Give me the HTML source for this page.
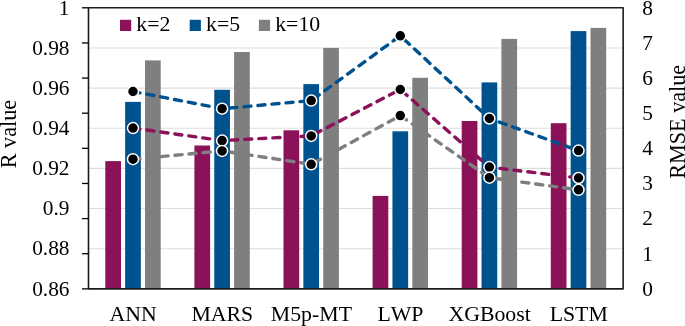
<!DOCTYPE html>
<html><head><meta charset="utf-8"><title>chart</title>
<style>html,body{margin:0;padding:0;background:#fff;overflow:hidden}text{font-kerning:none;font-variant-ligatures:none}</style></head>
<body>
<svg width="685" height="326" viewBox="0 0 685 326" style="display:block">
<rect width="685" height="326" fill="#fff"/>
<line x1="88.5" x2="623.15" y1="248.70" y2="248.70" stroke="#DEDEDE" stroke-width="1.1"/>
<line x1="88.5" x2="623.15" y1="208.55" y2="208.55" stroke="#DEDEDE" stroke-width="1.1"/>
<line x1="88.5" x2="623.15" y1="168.40" y2="168.40" stroke="#DEDEDE" stroke-width="1.1"/>
<line x1="88.5" x2="623.15" y1="128.25" y2="128.25" stroke="#DEDEDE" stroke-width="1.1"/>
<line x1="88.5" x2="623.15" y1="88.10" y2="88.10" stroke="#DEDEDE" stroke-width="1.1"/>
<line x1="88.5" x2="623.15" y1="47.95" y2="47.95" stroke="#DEDEDE" stroke-width="1.1"/>
<rect x="105.30" y="161.10" width="15.7" height="127.75" fill="#8B1259"/>
<rect x="125.15" y="101.90" width="15.7" height="186.95" fill="#00528F"/>
<rect x="145.00" y="60.40" width="15.7" height="228.45" fill="#7F7F7F"/>
<rect x="194.40" y="145.50" width="15.7" height="143.35" fill="#8B1259"/>
<rect x="214.25" y="89.80" width="15.7" height="199.05" fill="#00528F"/>
<rect x="234.10" y="52.00" width="15.7" height="236.85" fill="#7F7F7F"/>
<rect x="283.50" y="130.30" width="15.7" height="158.55" fill="#8B1259"/>
<rect x="303.35" y="84.10" width="15.7" height="204.75" fill="#00528F"/>
<rect x="323.20" y="47.90" width="15.7" height="240.95" fill="#7F7F7F"/>
<rect x="372.60" y="195.90" width="15.7" height="92.95" fill="#8B1259"/>
<rect x="392.45" y="131.30" width="15.7" height="157.55" fill="#00528F"/>
<rect x="412.30" y="77.80" width="15.7" height="211.05" fill="#7F7F7F"/>
<rect x="461.70" y="121.00" width="15.7" height="167.85" fill="#8B1259"/>
<rect x="481.55" y="82.40" width="15.7" height="206.45" fill="#00528F"/>
<rect x="501.40" y="38.90" width="15.7" height="249.95" fill="#7F7F7F"/>
<rect x="550.80" y="123.20" width="15.7" height="165.65" fill="#8B1259"/>
<rect x="570.65" y="31.10" width="15.7" height="257.75" fill="#00528F"/>
<rect x="590.50" y="27.90" width="15.7" height="260.95" fill="#7F7F7F"/>
<rect x="88.5" y="7.8" width="534.65" height="281.05" fill="none" stroke="#1c1c1c" stroke-width="1.6" stroke-linejoin="round"/>
<line x1="82" x2="88.5" y1="288.85" y2="288.85" stroke="#000" stroke-width="1.3"/>
<line x1="82" x2="88.5" y1="253.72" y2="253.72" stroke="#000" stroke-width="1.3"/>
<line x1="82" x2="88.5" y1="218.59" y2="218.59" stroke="#000" stroke-width="1.3"/>
<line x1="82" x2="88.5" y1="183.46" y2="183.46" stroke="#000" stroke-width="1.3"/>
<line x1="82" x2="88.5" y1="148.33" y2="148.33" stroke="#000" stroke-width="1.3"/>
<line x1="82" x2="88.5" y1="113.19" y2="113.19" stroke="#000" stroke-width="1.3"/>
<line x1="82" x2="88.5" y1="78.06" y2="78.06" stroke="#000" stroke-width="1.3"/>
<line x1="82" x2="88.5" y1="42.93" y2="42.93" stroke="#000" stroke-width="1.3"/>
<line x1="82" x2="88.5" y1="7.80" y2="7.80" stroke="#000" stroke-width="1.3"/>
<polyline points="133.0,91.5 222.1,108.7 311.2,100.6 400.3,35.8 489.4,118.5 578.5,150.6" fill="none" stroke="#00528F" stroke-width="3.4" stroke-dasharray="7.1 6.98" stroke-linecap="round" stroke-linejoin="round"/>
<circle cx="133.0" cy="91.5" r="5.5" fill="#000" stroke="#fff" stroke-width="1.5"/>
<circle cx="222.1" cy="108.7" r="5.5" fill="#000" stroke="#fff" stroke-width="1.5"/>
<circle cx="311.2" cy="100.6" r="5.5" fill="#000" stroke="#fff" stroke-width="1.5"/>
<circle cx="400.3" cy="35.8" r="5.5" fill="#000" stroke="#fff" stroke-width="1.5"/>
<circle cx="489.4" cy="118.5" r="5.5" fill="#000" stroke="#fff" stroke-width="1.5"/>
<circle cx="578.5" cy="150.6" r="5.5" fill="#000" stroke="#fff" stroke-width="1.5"/>
<polyline points="133.0,128.1 222.1,140.6 311.2,135.9 400.3,89.5 489.4,167.1 578.5,178.0" fill="none" stroke="#8B1259" stroke-width="3.4" stroke-dasharray="7.1 6.98" stroke-linecap="round" stroke-linejoin="round"/>
<circle cx="133.0" cy="128.1" r="5.5" fill="#000" stroke="#fff" stroke-width="1.5"/>
<circle cx="222.1" cy="140.6" r="5.5" fill="#000" stroke="#fff" stroke-width="1.5"/>
<circle cx="311.2" cy="135.9" r="5.5" fill="#000" stroke="#fff" stroke-width="1.5"/>
<circle cx="400.3" cy="89.5" r="5.5" fill="#000" stroke="#fff" stroke-width="1.5"/>
<circle cx="489.4" cy="167.1" r="5.5" fill="#000" stroke="#fff" stroke-width="1.5"/>
<circle cx="578.5" cy="178.0" r="5.5" fill="#000" stroke="#fff" stroke-width="1.5"/>
<polyline points="133.0,159.2 222.1,150.9 311.2,164.3 400.3,115.6 489.4,177.7 578.5,189.8" fill="none" stroke="#7F7F7F" stroke-width="3.4" stroke-dasharray="7.1 6.98" stroke-linecap="round" stroke-linejoin="round"/>
<circle cx="133.0" cy="159.2" r="5.5" fill="#000" stroke="#fff" stroke-width="1.5"/>
<circle cx="222.1" cy="150.9" r="5.5" fill="#000" stroke="#fff" stroke-width="1.5"/>
<circle cx="311.2" cy="164.3" r="5.5" fill="#000" stroke="#fff" stroke-width="1.5"/>
<circle cx="400.3" cy="115.6" r="5.5" fill="#000" stroke="#fff" stroke-width="1.5"/>
<circle cx="489.4" cy="177.7" r="5.5" fill="#000" stroke="#fff" stroke-width="1.5"/>
<circle cx="578.5" cy="189.8" r="5.5" fill="#000" stroke="#fff" stroke-width="1.5"/>
<text x="69.5" y="295.55" text-anchor="end" font-family="Liberation Serif, Times New Roman, serif" font-size="21.33" fill="#000">0.86</text>
<text x="69.5" y="255.40" text-anchor="end" font-family="Liberation Serif, Times New Roman, serif" font-size="21.33" fill="#000">0.88</text>
<text x="69.5" y="215.25" text-anchor="end" font-family="Liberation Serif, Times New Roman, serif" font-size="21.33" fill="#000">0.9</text>
<text x="69.5" y="175.10" text-anchor="end" font-family="Liberation Serif, Times New Roman, serif" font-size="21.33" fill="#000">0.92</text>
<text x="69.5" y="134.95" text-anchor="end" font-family="Liberation Serif, Times New Roman, serif" font-size="21.33" fill="#000">0.94</text>
<text x="69.5" y="94.80" text-anchor="end" font-family="Liberation Serif, Times New Roman, serif" font-size="21.33" fill="#000">0.96</text>
<text x="69.5" y="54.65" text-anchor="end" font-family="Liberation Serif, Times New Roman, serif" font-size="21.33" fill="#000">0.98</text>
<text x="69.5" y="14.50" text-anchor="end" font-family="Liberation Serif, Times New Roman, serif" font-size="21.33" fill="#000">1</text>
<text x="642.2" y="295.65" font-family="Liberation Serif, Times New Roman, serif" font-size="21.33" fill="#000">0</text>
<text x="642.2" y="260.52" font-family="Liberation Serif, Times New Roman, serif" font-size="21.33" fill="#000">1</text>
<text x="642.2" y="225.39" font-family="Liberation Serif, Times New Roman, serif" font-size="21.33" fill="#000">2</text>
<text x="642.2" y="190.26" font-family="Liberation Serif, Times New Roman, serif" font-size="21.33" fill="#000">3</text>
<text x="642.2" y="155.13" font-family="Liberation Serif, Times New Roman, serif" font-size="21.33" fill="#000">4</text>
<text x="642.2" y="119.99" font-family="Liberation Serif, Times New Roman, serif" font-size="21.33" fill="#000">5</text>
<text x="642.2" y="84.86" font-family="Liberation Serif, Times New Roman, serif" font-size="21.33" fill="#000">6</text>
<text x="642.2" y="49.73" font-family="Liberation Serif, Times New Roman, serif" font-size="21.33" fill="#000">7</text>
<text x="642.2" y="14.60" font-family="Liberation Serif, Times New Roman, serif" font-size="21.33" fill="#000">8</text>
<text x="133.2" y="320.6" text-anchor="middle" font-family="Liberation Serif, Times New Roman, serif" font-size="21.8" fill="#000">ANN</text>
<text x="222.3" y="320.6" text-anchor="middle" font-family="Liberation Serif, Times New Roman, serif" font-size="21.8" fill="#000">MARS</text>
<text x="311.4" y="320.6" text-anchor="middle" font-family="Liberation Serif, Times New Roman, serif" font-size="21.8" fill="#000">M5p-MT</text>
<text x="400.5" y="320.6" text-anchor="middle" font-family="Liberation Serif, Times New Roman, serif" font-size="21.8" fill="#000">LWP</text>
<text x="489.6" y="320.6" text-anchor="middle" font-family="Liberation Serif, Times New Roman, serif" font-size="21.8" fill="#000">XGBoost</text>
<text x="578.7" y="320.6" text-anchor="middle" font-family="Liberation Serif, Times New Roman, serif" font-size="21.8" fill="#000">LSTM</text>
<rect x="120" y="19.8" width="11.2" height="11.2" fill="#8B1259"/>
<text x="136.3" y="31.3" font-family="Liberation Serif, Times New Roman, serif" font-size="21.8" fill="#000">k=2</text>
<rect x="189.7" y="19.8" width="11.2" height="11.2" fill="#00528F"/>
<text x="206" y="31.3" font-family="Liberation Serif, Times New Roman, serif" font-size="21.8" fill="#000">k=5</text>
<rect x="258.9" y="19.8" width="11.2" height="11.2" fill="#7F7F7F"/>
<text x="275.2" y="31.3" font-family="Liberation Serif, Times New Roman, serif" font-size="21.8" fill="#000">k=10</text>
<text transform="translate(15.8,168.3) rotate(-90)" font-family="Liberation Serif, Times New Roman, serif" font-size="22.2" fill="#000">R value</text>
<text transform="translate(684.8,178.8) rotate(-90)" font-family="Liberation Serif, Times New Roman, serif" font-size="22.2" fill="#000">RMSE value</text>
</svg>
</body></html>
